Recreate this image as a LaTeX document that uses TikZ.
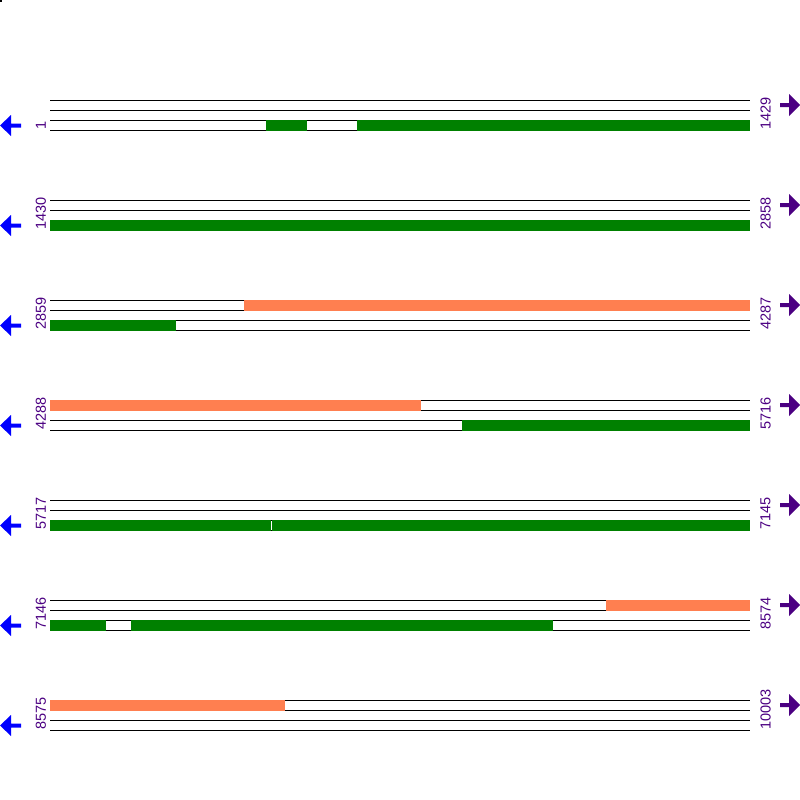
\documentclass[tikz,border=0pt]{standalone}
\usepackage{fontspec}
\setsansfont{Liberation Sans}
\definecolor{cdsgreen}{HTML}{008000}
\definecolor{orfcoral}{HTML}{FF7F50}
\definecolor{posindigo}{HTML}{4B0082}
\begin{document}
\begin{tikzpicture}[x=1pt,y=-1pt,font=\sffamily\fontsize{14.5}{14.5}\selectfont,
  frame/.style={black,line width=1pt},
  cds/.style={fill=cdsgreen},
  orf/.style={fill=orfcoral},
  poslabel/.style={text=posindigo,rotate=90,anchor=west,inner sep=0pt}]
\useasboundingbox (0,0) rectangle (800,800);
\fill (0,0) rectangle (2,2);
% rows of four frame lines, with start and end positions
\foreach \r/\first/\last in {0/1/1429,1/1430/2858,2/2859/4287,3/4288/5716,
                            4/5717/7145,5/7146/8574,6/8575/10003}{
  \pgfmathsetmacro{\yy}{100+100*\r}
  \foreach \k in {0,10,20,30}
    \draw [frame] (50,\yy+\k) -- (750,\yy+\k);
  \node [poslabel] (left\r) at (41,\yy+30) {\first};
  \node [poslabel] (right\r) at (765.5,\yy+30) {\last};
  % strand arrows
  \fill [blue] (0,\yy+25.5) -- (11,\yy+15) -- (11,\yy+23.5) -- (21,\yy+23.5)
             -- (21,\yy+27.5) -- (11,\yy+27.5) -- (11,\yy+36) -- cycle;
  \fill [posindigo] (800,\yy+5) -- (789,\yy-6) -- (789,\yy+3) -- (780,\yy+3)
             -- (780,\yy+7) -- (789,\yy+7) -- (789,\yy+16) -- cycle;
}
% coding regions
\fill [cds] (266,119.5) rectangle (307,130.5);
\fill [cds] (357,119.5) rectangle (750,130.5);
\fill [cds] (50,219.5) rectangle (750,230.5);
\fill [orf] (244,299.5) rectangle (750,310.5);
\fill [cds] (50,319.5) rectangle (176,330.5);
\fill [orf] (50,399.5) rectangle (421,410.5);
\fill [cds] (462,419.5) rectangle (750,430.5);
\fill [cds] (50,519.5) rectangle (270.5,530.5);
\fill [cds] (271.5,519.5) rectangle (750,530.5);
\fill [orf] (606,599.5) rectangle (750,610.5);
\fill [cds] (50,619.5) rectangle (106,630.5);
\fill [cds] (131,619.5) rectangle (553,630.5);
\fill [orf] (50,699.5) rectangle (285,710.5);
\end{tikzpicture}
\end{document}
